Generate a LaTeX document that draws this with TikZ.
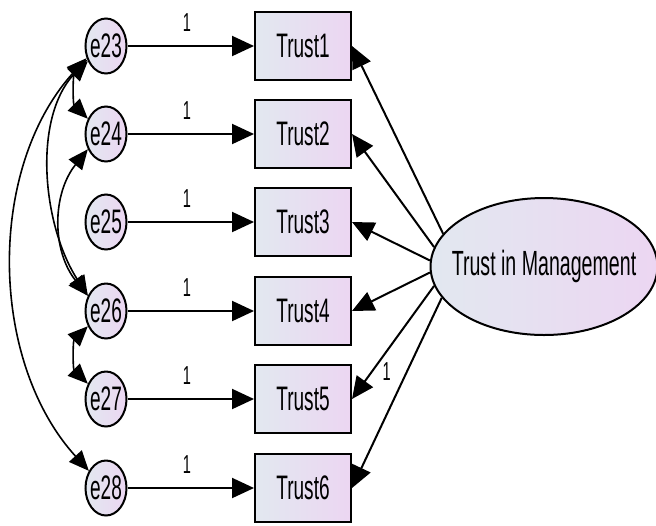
\documentclass[tikz,border=0pt]{standalone}
\usepackage{fontspec}
\setmainfont{Liberation Sans}[FakeStretch=0.56]
\usetikzlibrary{shapes.geometric,arrows.meta}
\definecolor{amosleft}{RGB}{226,232,240}
\definecolor{amosright}{RGB}{236,214,242}
\tikzset{
  errvar/.style={ellipse, draw, line width=1pt, left color=amosleft, right color=amosright,
    minimum width=20.5pt, minimum height=27.5pt, inner xsep=-2pt, inner ysep=0pt,
    font=\fontsize{17}{17}\selectfont},
  obsbox/.style={rectangle, draw, line width=1pt, left color=amosleft, right color=amosright,
    minimum width=48pt, minimum height=34pt, font=\fontsize{17}{17}\selectfont},
  latvar/.style={ellipse, draw, line width=1pt, left color=amosleft, right color=amosright,
    minimum width=112pt, minimum height=68.5pt, inner xsep=-6pt, font=\fontsize{17.5}{17.5}\selectfont},
  regarrow/.style={line width=1pt, -{Triangle[length=11pt,width=10pt]}},
  covarrow/.style={line width=0.8pt, {Triangle[length=10pt,width=8.5pt]}-{Triangle[length=10pt,width=8.5pt]}},
  wlabel/.style={font=\fontsize{13}{13}\selectfont, inner sep=0pt}
}
\begin{document}
\begin{tikzpicture}[x=0.5pt, y=-0.5pt]
  \useasboundingbox (0,0) rectangle (656,525);

  \node (tim) at (544,266.5) [latvar] {Trust in Management};

  \foreach \e/\t/\y in {23/1/46, 24/2/134, 25/3/222, 26/4/311, 27/5/399, 28/6/488} {
    \node (e\e) at (106,\y) [errvar] {e\e};
    \node (t\t) at (303,\y) [obsbox] {Trust\t};
    \draw[regarrow] (e\e) -- node[wlabel, above=7pt, pos=0.47] {1} (t\t);
  }

  \foreach \t/\a in {1/162, 2/170, 3/177, 4/183, 6/197} {
    \draw[regarrow] (tim.\a) -- (t\t.east);
  }
  \draw[regarrow] (tim.190) -- node[wlabel, pos=0.76, right=5pt] {1} (t5.east);

  % covariances
  \draw[covarrow] (e23.220) .. controls +(-15,15) and +(-15,-15) .. (e24.140);
  \draw[covarrow] (e23.216) .. controls +(-55,60) and +(-45,-70) .. (e26.140);
  \draw[covarrow] (e23.212) .. controls +(-100,110) and +(-100,-110) .. (e28.135);
  \draw[covarrow] (e24.220) .. controls +(-36,45) and +(-36,-45) .. (e26.140);
  \draw[covarrow] (e26.220) .. controls +(-15,15) and +(-15,-15) .. (e27.140);
\end{tikzpicture}
\end{document}
